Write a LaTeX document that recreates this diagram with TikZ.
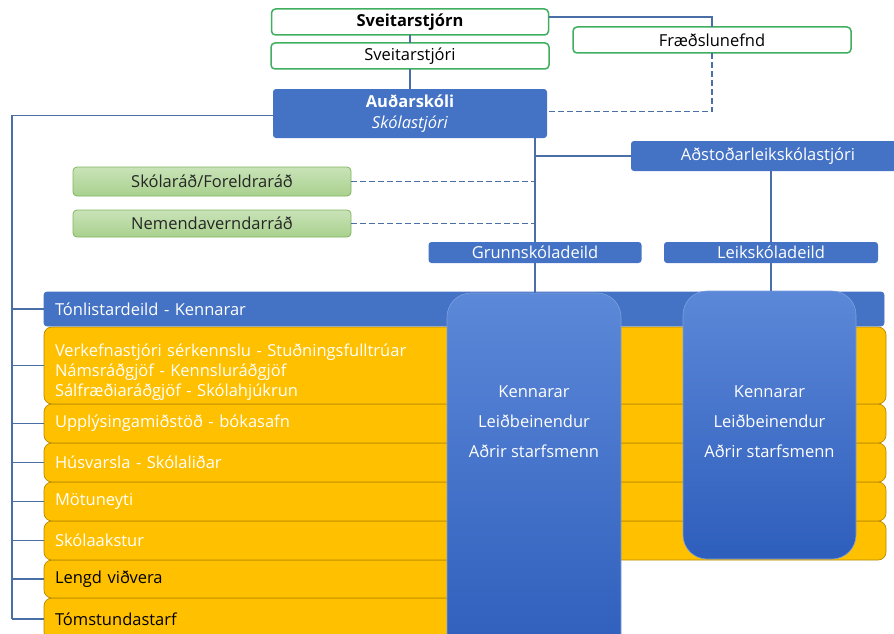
\documentclass[tikz,border=0pt]{standalone}
\usepackage{fontspec}
\setmainfont{Open Sans}
\usetikzlibrary{positioning}
\definecolor{orgblue}{HTML}{4472C4}
\definecolor{linkblue}{HTML}{4A6FA6}
\definecolor{boxgreen}{HTML}{3FAE5F}
\definecolor{radgreen}{HTML}{A9D18E}
\definecolor{radlight}{HTML}{C9E3B8}
\definecolor{radedge}{HTML}{7FB460}
\definecolor{rowyellow}{HTML}{FFC000}
\definecolor{rowedge}{HTML}{B88A00}
\definecolor{pilltop}{HTML}{5C88D8}
\definecolor{pillbot}{HTML}{2E5EBC}

\begin{document}
\begin{tikzpicture}[x=1pt,y=-1pt,font=\fontsize{16.5}{19}\selectfont,
  every node/.style={inner sep=0pt,outer sep=0pt},
  topbox/.style={draw=boxgreen,line width=1.5pt,fill=white,rounded corners=4pt,minimum height=26pt},
  bluebox/.style={fill=orgblue,rounded corners=3pt,text=white},
  greenbox/.style={top color=radlight,bottom color=radgreen,draw=radedge,line width=0.8pt,rounded corners=4pt,text=black!85},
  rowbox/.style={fill=rowyellow,draw=rowedge,line width=0.7pt,rounded corners=8pt,anchor=north west,align=left,inner xsep=11pt,text=white},
  pill/.style={top color=pilltop,bottom color=pillbot,draw=pilltop!80!white,line width=0.6pt,rounded corners=24pt,anchor=north},
  pilltext/.style={text=white,align=center,font=\fontsize{16.5}{30}\selectfont},
  link/.style={draw=linkblue,line width=1.4pt},
  dlink/.style={draw=linkblue,line width=1.7pt,dash pattern=on 6pt off 3pt}]
\useasboundingbox (0,0) rectangle (894,634);
\clip (0,0) rectangle (894,634);

% top of the chart
\node[topbox,minimum width=277pt,font=\fontsize{16.5}{19}\bfseries] (svtjorn) at (410,22) {Sveitarstjórn};
\node[topbox,minimum width=278pt,below=8pt of svtjorn] (svtjori) {Sveitarstjóri};
\node[topbox,minimum width=278pt] (fraedsla) at (712,40) {Fræðslunefnd};
\node[bluebox,minimum width=274pt,minimum height=49pt,below=20pt of svtjori,align=center,font=\fontsize{16.5}{21}\selectfont] (skoli) {\textbf{Auðarskóli}\\\textit{Skólastjóri}};
\node[bluebox,minimum width=274pt,minimum height=30pt] (adst) at (768,156) {Aðstoðarleikskólastjóri};
\node[bluebox,minimum width=213pt,minimum height=21pt] (grunn) at (535,252.5) {Grunnskóladeild};
\node[bluebox,minimum width=214pt,minimum height=21pt] (leik) at (771,252.5) {Leikskóladeild};
\node[greenbox,minimum width=278pt,minimum height=29pt] (skolarad) at (212,181.5) {Skólaráð/Foreldraráð};
\node[greenbox,minimum width=278pt,minimum height=27pt] (nemrad) at (212,223.5) {Nemendaverndarráð};

% staff rows, lowest first
\node[rowbox,minimum height=42pt,text width=500pt,text=black] (tomst) at (44,598) {Tómstundastarf};
\node[rowbox,minimum height=38pt,text width=500pt,text=black] (lengd) at (44,560) {Lengd viðvera};
\node[rowbox,minimum height=39pt,text width=820pt] (akstur) at (44,521) {Skólaakstur};
\node[rowbox,minimum height=39pt,text width=820pt] (motuneyti) at (44,482) {Mötuneyti};
\node[rowbox,minimum height=39pt,text width=820pt] (husvarsla) at (44,443) {Húsvarsla - Skólaliðar};
\node[rowbox,minimum height=39pt,text width=820pt] (upplys) at (44,404) {Upplýsingamiðstöð - bókasafn};
\node[rowbox,minimum height=77pt,text width=820pt,font=\fontsize{16.5}{20}\selectfont] (verkefni) at (44,327) {\rule{0pt}{26pt}Verkefnastjóri sérkennslu - Stuðningsfulltrúar\\Námsráðgjöf - Kennsluráðgjöf\\Sálfræðiaráðgjöf - Skólahjúkrun};
\node[rowbox,fill=orgblue,draw=orgblue,rounded corners=3pt,minimum height=34pt,text width=818pt] (tonlist) at (44,292) {Tónlistardeild - Kennarar};

% the two departments
\node[pill,minimum width=174pt,minimum height=367pt] (lpill) at (534,293) {};
\node[pill,minimum width=173pt,minimum height=268pt] (rpill) at (769.5,291) {};
\node[pilltext] at ([yshift=-129pt]lpill.north) {Kennarar\\Leiðbeinendur\\Aðrir starfsmenn};
\node[pilltext] at ([yshift=-131pt]rpill.north) {Kennarar\\Leiðbeinendur\\Aðrir starfsmenn};

\coordinate (trunk) at (12,0);

\draw[link] (svtjorn) -- (svtjori)
  (svtjori) -- (skoli)
  ([yshift=5pt]svtjorn.east) -| (fraedsla.north)
  (skoli.south -| grunn.north) -- (grunn.north)
  (grunn.north |- adst.west) -- (adst.west)
  (leik.north |- adst.south) -- (leik.north)
  (leik.south) -- (leik.south |- rpill.north)
  (grunn.south) -- (grunn.south |- lpill.north)
  ([yshift=-2pt]skoli.west) -| (trunk |- tomst.west);
\draw[link] (trunk |- tonlist.west) -- (tonlist.west)
  (trunk |- verkefni.west) -- (verkefni.west)
  (trunk |- upplys.west) -- (upplys.west)
  (trunk |- husvarsla.west) -- (husvarsla.west)
  (trunk |- motuneyti.west) -- (motuneyti.west)
  (trunk |- akstur.west) -- (akstur.west)
  (trunk |- lengd.west) -- (lengd.west)
  (trunk |- tomst.west) -- (tomst.west);
\draw[dlink] (fraedsla.south) |- ([yshift=2pt]skoli.east)
  (skolarad.east) -- (skolarad.east -| grunn.north)
  (nemrad.east) -- (nemrad.east -| grunn.north);

\end{tikzpicture}
\end{document}
